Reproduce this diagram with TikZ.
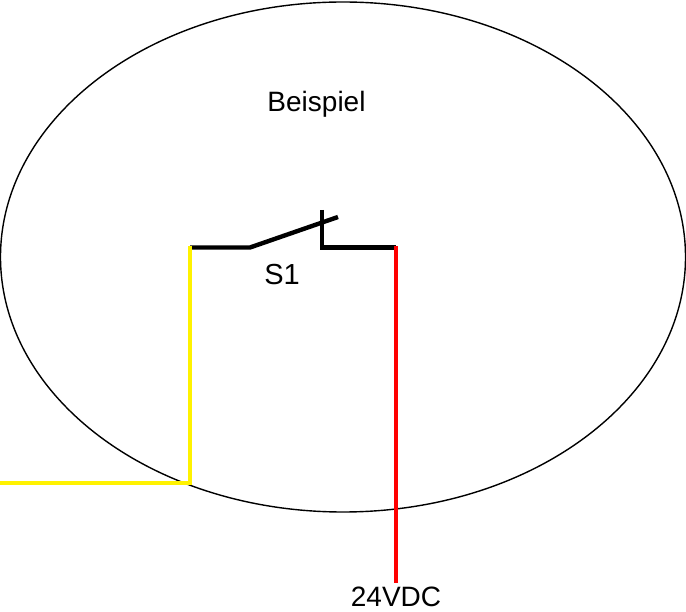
\documentclass[tikz,border=0pt]{standalone}
\usepackage{fontspec}
\setmainfont{Liberation Sans}
\tikzset{
  px/.style={x=1pt,y=-1pt},
  outline/.style={draw=black,line width=1.4pt},
  wire/.style={line width=3.8pt,line cap=butt,line join=miter},
  blackwire/.style={line width=4.4pt,line cap=butt,line join=miter,draw=black},
  label/.style={inner sep=0pt,font=\fontsize{28}{32}\selectfont,text=black}
}
\begin{document}
\begin{tikzpicture}[px]
\useasboundingbox (0,0) rectangle (686,612);
\draw[outline] (343,257) ellipse [x radius=342.5,y radius=255];
\coordinate (yt) at (190,246);
\coordinate (yc) at (190,483);
\coordinate (ye) at (0,483);
\coordinate (bl) at (190,247.5);
\coordinate (sa) at (250,247.5);
\coordinate (sb) at (338,217);
\coordinate (st) at (322,210);
\coordinate (sc) at (322,247.5);
\coordinate (br) at (396,247.5);
\coordinate (rt) at (396,246);
\coordinate (re) at (396,583);
\draw[blackwire] (bl) -- (sa) -- (sb);
\draw[blackwire] (st) -- (sc) -- (br);
\draw[wire,yellow] (yt) -- (yc) -- (ye);
\draw[wire,red] (rt) -- (re);
\node[label] (title) at (316.5,104) {Beispiel};
\node[label,font=\fontsize{29}{32}\selectfont] (s1) at (282,275) {S1};
\node[label] (v) at (396,597) {24VDC};
\end{tikzpicture}
\end{document}
